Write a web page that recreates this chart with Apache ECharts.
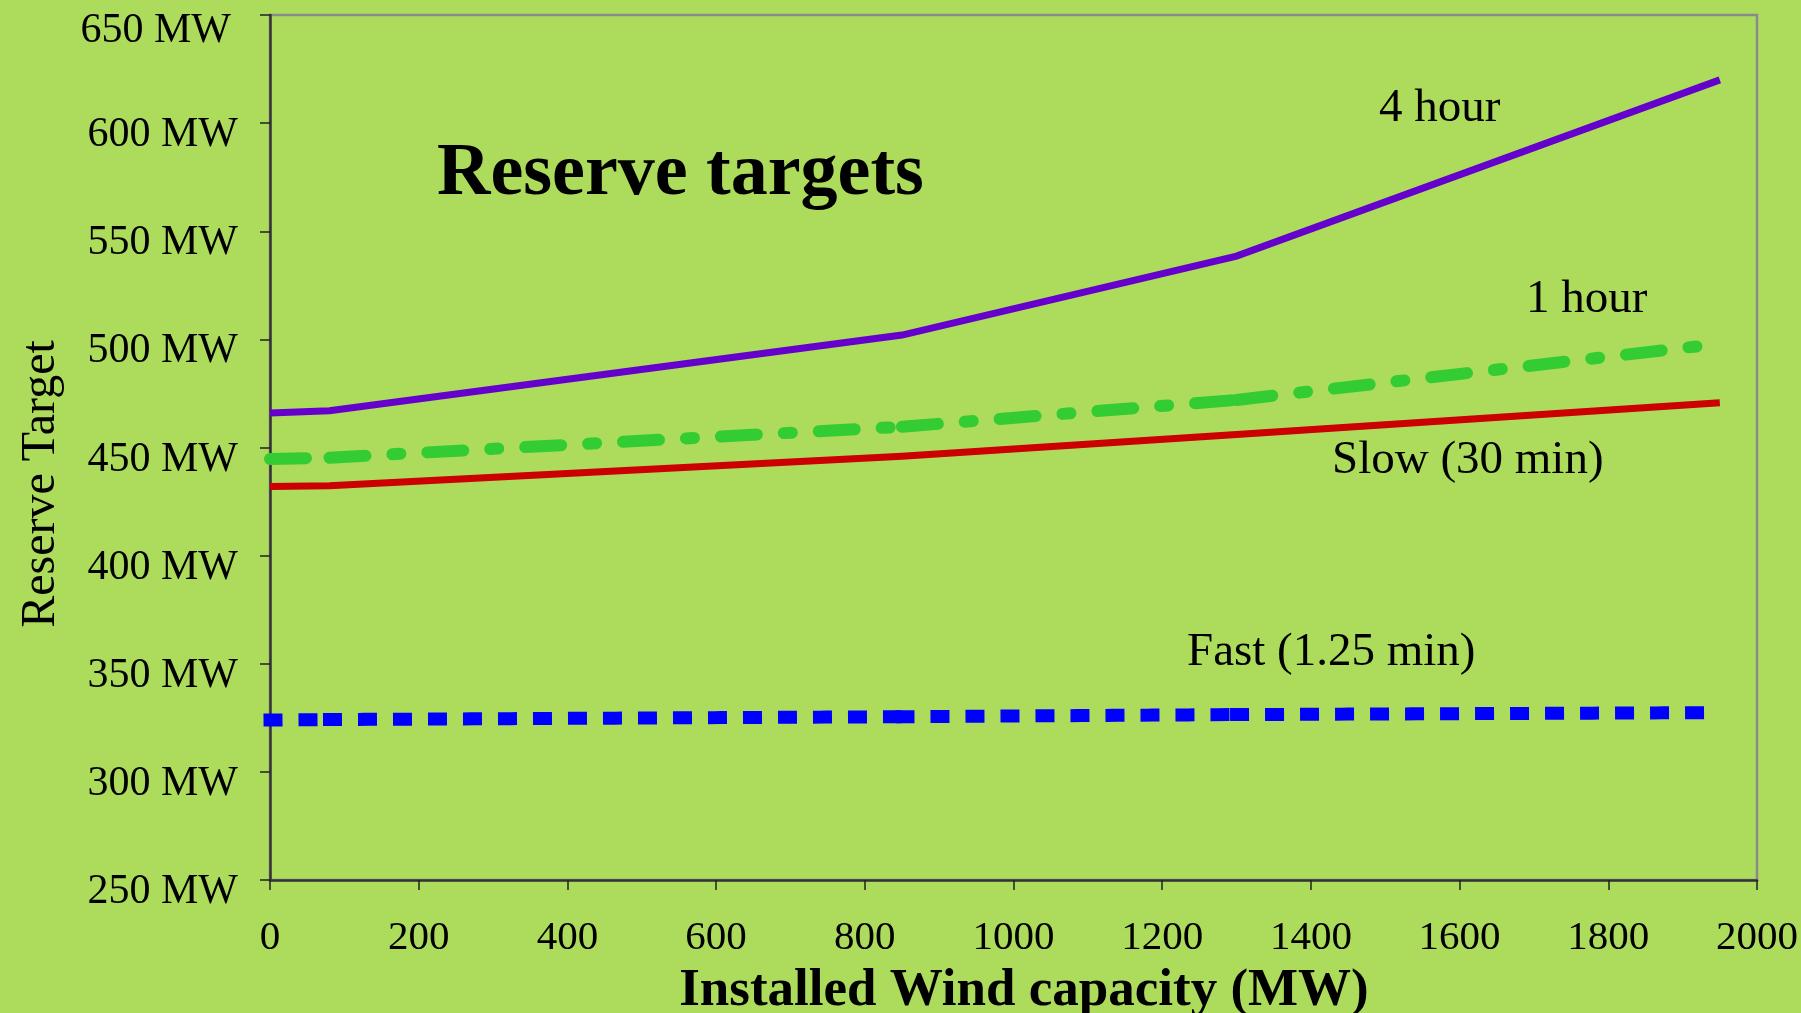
<!DOCTYPE html>
<html>
<head>
<meta charset="utf-8">
<title>Reserve targets</title>
<script src="https://cdn.jsdelivr.net/npm/echarts@6/dist/echarts.min.js"></script>
<style>
  html, body { margin: 0; padding: 0; background: #addb5c; }
  #chart { width: 1801px; height: 1013px; }
</style>
</head>
<body>
<div id="chart"></div>
<script>
// Installed wind capacity (MW) at which each reserve target was evaluated
const windCapacity = [0, 80, 850, 1300, 1950];

// Reserve targets (MW) for each reserve class
const fourHour = [466, 467, 502, 538.5, 620];
const oneHour  = [444.7, 445.3, 459.6, 472, 498];
const slow30   = [432, 432.3, 446, 456, 470.7];
const fast125  = [324, 324.2, 325.5, 326.5, 327.4];

// Axis ticks
const xTicks = { min: 0, max: 2000, step: 200 };
const yTicks = { min: 250, max: 650, step: 50 };

const FONT = "'Liberation Serif', 'Times New Roman', serif";

function pairs(ys) {
  return windCapacity.map((x, i) => [x, ys[i]]);
}

// A solid polyline through all points
function solidSeries(name, ys, color, width) {
  return {
    name: name,
    type: 'line',
    data: pairs(ys),
    showSymbol: false,
    symbol: 'none',
    silent: true,
    lineStyle: { color: color, width: width, join: 'miter' },
    z: 3
  };
}

// Patterned lines restart their dash pattern at every data point,
// so each segment is drawn as its own short line.
function patternedSeries(name, ys, color, width, dash, cap) {
  const pts = pairs(ys);
  const out = [];
  for (let i = 0; i < pts.length - 1; i++) {
    out.push({
      name: name,
      type: 'line',
      data: [pts[i], pts[i + 1]],
      showSymbol: false,
      symbol: 'none',
      silent: true,
      lineStyle: { color: color, width: width, type: dash, cap: cap },
      z: 3
    });
  }
  return out;
}

function label(text, x, y, size, weight, align, rotation) {
  return {
    type: 'text', x: x, y: y, rotation: rotation || 0, silent: true, z: 10,
    style: {
      text: text,
      fill: '#000',
      fontFamily: FONT,
      fontSize: size,
      fontWeight: weight,
      align: align,
      verticalAlign: 'middle'
    }
  };
}

const chart = echarts.init(document.getElementById('chart'), null, { renderer: 'canvas' });

chart.setOption({
  backgroundColor: '#addb5c',
  animation: false,
  grid: {
    left: 270, top: 15, right: 44, bottom: 133,
    outerBoundsMode: 'none',
    containLabel: false,
    show: true,
    borderColor: '#8a8a8a',
    borderWidth: 2.5,
    backgroundColor: 'transparent'
  },
  xAxis: {
    type: 'value',
    min: xTicks.min, max: xTicks.max, interval: xTicks.step,
    axisLine: { show: true, onZero: false, lineStyle: { color: '#333', width: 2.5 } },
    axisTick: { show: true, inside: false, length: 10, lineStyle: { color: '#222', width: 1.5 } },
    splitLine: { show: false },
    axisLabel: {
      margin: 38,
      fontFamily: FONT,
      fontSize: 41,
      color: '#000',
      showMinLabel: true,
      showMaxLabel: true,
      hideOverlap: false,
      formatter: (v) => String(v)
    }
  },
  yAxis: {
    type: 'value',
    min: yTicks.min, max: yTicks.max, interval: yTicks.step,
    axisLine: { show: true, onZero: false, lineStyle: { color: '#333', width: 2.5 } },
    axisTick: { show: true, inside: false, length: 10, lineStyle: { color: '#222', width: 1.5 } },
    splitLine: { show: false },
    axisLabel: {
      margin: 32,
      fontFamily: FONT,
      fontSize: 42,
      color: '#000',
      showMinLabel: true,
      showMaxLabel: true,
      hideOverlap: false,
      // the top label sits a little lower and further left than the rest
      formatter: (v) => (v === yTicks.max ? '{top|' : '{t|') + v + ' MW}',
      rich: {
        t: {
          fontFamily: FONT,
          fontSize: 42,
          color: '#000',
          padding: [24, 0, 0, 0]
        },
        top: {
          fontFamily: FONT,
          fontSize: 42,
          color: '#000',
          padding: [32, 7, 0, 0]
        }
      }
    }
  },
  series: [
    solidSeries('4 hour', fourHour, '#6600cc', 7),
    solidSeries('Slow (30 min)', slow30, '#cc0000', 7),
    ...patternedSeries('1 hour', oneHour, '#33cc33', 12, [36, 27, 8, 27], 'round'),
    ...patternedSeries('Fast (1.25 min)', fast125, '#0000ff', 13, [6, 29], 'square')
  ],
  graphic: [
    label('Reserve targets', 437, 175, 74, 'bold', 'left'),
    label('4 hour', 1379, 109, 47, 'normal', 'left'),
    label('1 hour', 1526, 300, 47, 'normal', 'left'),
    label('Slow (30 min)', 1332, 461, 47, 'normal', 'left'),
    label('Fast (1.25 min)', 1187, 653, 47, 'normal', 'left'),
    label('Installed Wind capacity (MW)', 1024, 991, 53, 'bold', 'center'),
    label('Reserve Target', 41, 484, 48, 'normal', 'center', Math.PI / 2)
  ]
});
</script>
</body>
</html>
